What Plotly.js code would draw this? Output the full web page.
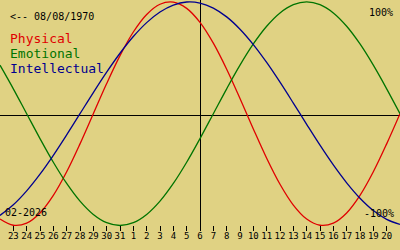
<!DOCTYPE html>
<html><head><meta charset="utf-8">
<script src="https://cdn.plot.ly/plotly-3.0.1.min.js"></script>
<style>html,body{margin:0;padding:0;background:#e0d283;}#chart{width:400px;height:250px;}</style>
</head><body><div id="chart"></div>
<script>
const dates = ['2026-01-22','2026-01-23','2026-01-24','2026-01-25','2026-01-26','2026-01-27','2026-01-28','2026-01-29','2026-01-30','2026-01-31',
  '2026-02-01','2026-02-02','2026-02-03','2026-02-04','2026-02-05','2026-02-06','2026-02-07','2026-02-08','2026-02-09','2026-02-10',
  '2026-02-11','2026-02-12','2026-02-13','2026-02-14','2026-02-15','2026-02-16','2026-02-17','2026-02-18','2026-02-19','2026-02-20','2026-02-21'];
const physical = [-0.9423,-0.9977,-0.9791,-0.8879,-0.7308,-0.5196,-0.2698,0,0.2698,0.5196,
  0.7308,0.8879,0.9791,0.9977,0.9423,0.8170,0.6310,0.3984,0.1362,-0.1362,
  -0.3984,-0.6310,-0.8170,-0.9423,-0.9977,-0.9791,-0.8879,-0.7308,-0.5196,-0.2698,0];
const emotional = [0.4339,0.2225,0,-0.2225,-0.4339,-0.6235,-0.7818,-0.9010,-0.9749,-1,
  -0.9749,-0.9010,-0.7818,-0.6235,-0.4339,-0.2225,0,0.2225,0.4339,0.6235,
  0.7818,0.9010,0.9749,1,0.9749,0.9010,0.7818,0.6235,0.4339,0.2225,0];
const intellectual = [-0.9096,-0.8146,-0.6901,-0.5406,-0.3717,-0.1893,0,0.1893,0.3717,0.5406,
  0.6901,0.8146,0.9096,0.9718,0.9989,0.9898,0.9450,0.8660,0.7557,0.6182,
  0.4582,0.2817,0.0951,-0.0951,-0.2817,-0.4582,-0.6182,-0.7557,-0.8660,-0.9450,-0.9898];
const tickDates = dates.slice(1, 30);
const tickLabels = ['23','24','25','26','27','28','29','30','31','1','2','3','4','5','6','7','8','9','10',
  '11','12','13','14','15','16','17','18','19','20'];
const seriesNames = ['Physical','Emotional','Intellectual'];
const seriesColors = ['#e00000','#007400','#00008f'];
const today = '2026-02-06';
const birthLabel = '&lt;-- 08/08/1970';
const monthLabel = '02-2026';
const topLabel = '100%';
const bottomLabel = '-100%';

const mono = 'DejaVu Sans Mono, monospace';
const series = [physical, emotional, intellectual];
const traces = series.map((vals, i) => ({
  x: dates, y: vals, type: 'scatter', mode: 'lines', name: seriesNames[i],
  line: {color: seriesColors[i], width: 1.3, shape: 'spline', smoothing: 1},
  hoverinfo: 'skip'
}));

const W = 400, H = 250;
const px = (x) => x / W;
const py = (y) => 1 - y / H;
// vertical mapping: value 0 at 113.7px, amplitude 111.8px
const c0 = 113.7, amp = 111.8;

const annotations = [
  {text: birthLabel, x: px(8), y: py(16.5), xanchor: 'left', yanchor: 'middle', font: {family: mono, size: 10, color: '#000'}},
  {text: topLabel, x: px(395), y: py(12), xanchor: 'right', yanchor: 'middle', font: {family: mono, size: 10, color: '#000'}},
  {text: bottomLabel, x: px(396), y: py(213.5), xanchor: 'right', yanchor: 'middle', font: {family: mono, size: 10, color: '#000'}},
  {text: monthLabel, x: px(3), y: py(212.5), xanchor: 'left', yanchor: 'middle', font: {family: mono, size: 10, color: '#000'}}
];
seriesNames.forEach((n, i) => {
  annotations.push({text: n, x: px(8), y: py(38.3 + 15 * i), xanchor: 'left', yanchor: 'middle',
    font: {family: mono, size: 13, color: seriesColors[i]}});
});
annotations.forEach(a => { a.xref = 'paper'; a.yref = 'paper'; a.showarrow = false; });

const layout = {
  width: W, height: H,
  margin: {l: 0, r: 0, t: 0, b: 0, pad: 0},
  paper_bgcolor: '#e0d283', plot_bgcolor: '#e0d283',
  showlegend: false,
  xaxis: {
    type: 'date', range: [dates[0], dates[dates.length - 1]],
    tickvals: tickDates, ticktext: tickLabels,
    ticks: 'outside', ticklen: 5, tickwidth: 1, tickcolor: '#000',
    ticklabelstandoff: -3,
    anchor: 'free', position: 0.1,
    showgrid: false, zeroline: false, showline: false,
    tickfont: {family: mono, size: 9, color: '#000'}
  },
  yaxis: {
    range: [-(H - c0) / amp, c0 / amp], showgrid: false, showticklabels: false, ticks: '',
    zeroline: false, showline: false
  },
  shapes: [
    {type: 'line', xref: 'paper', yref: 'paper', x0: 0, x1: 1, y0: py(115.5), y1: py(115.5),
      line: {color: '#000', width: 1}, layer: 'below'},
    {type: 'line', xref: 'x', xsizemode: 'pixel', xanchor: today, x0: 0.5, x1: 0.5,
      yref: 'paper', y0: py(229), y1: 1, line: {color: '#000', width: 1}, layer: 'below'}
  ],
  annotations: annotations
};
Plotly.newPlot('chart', traces, layout, {displayModeBar: false, staticPlot: true});
</script></body></html>
